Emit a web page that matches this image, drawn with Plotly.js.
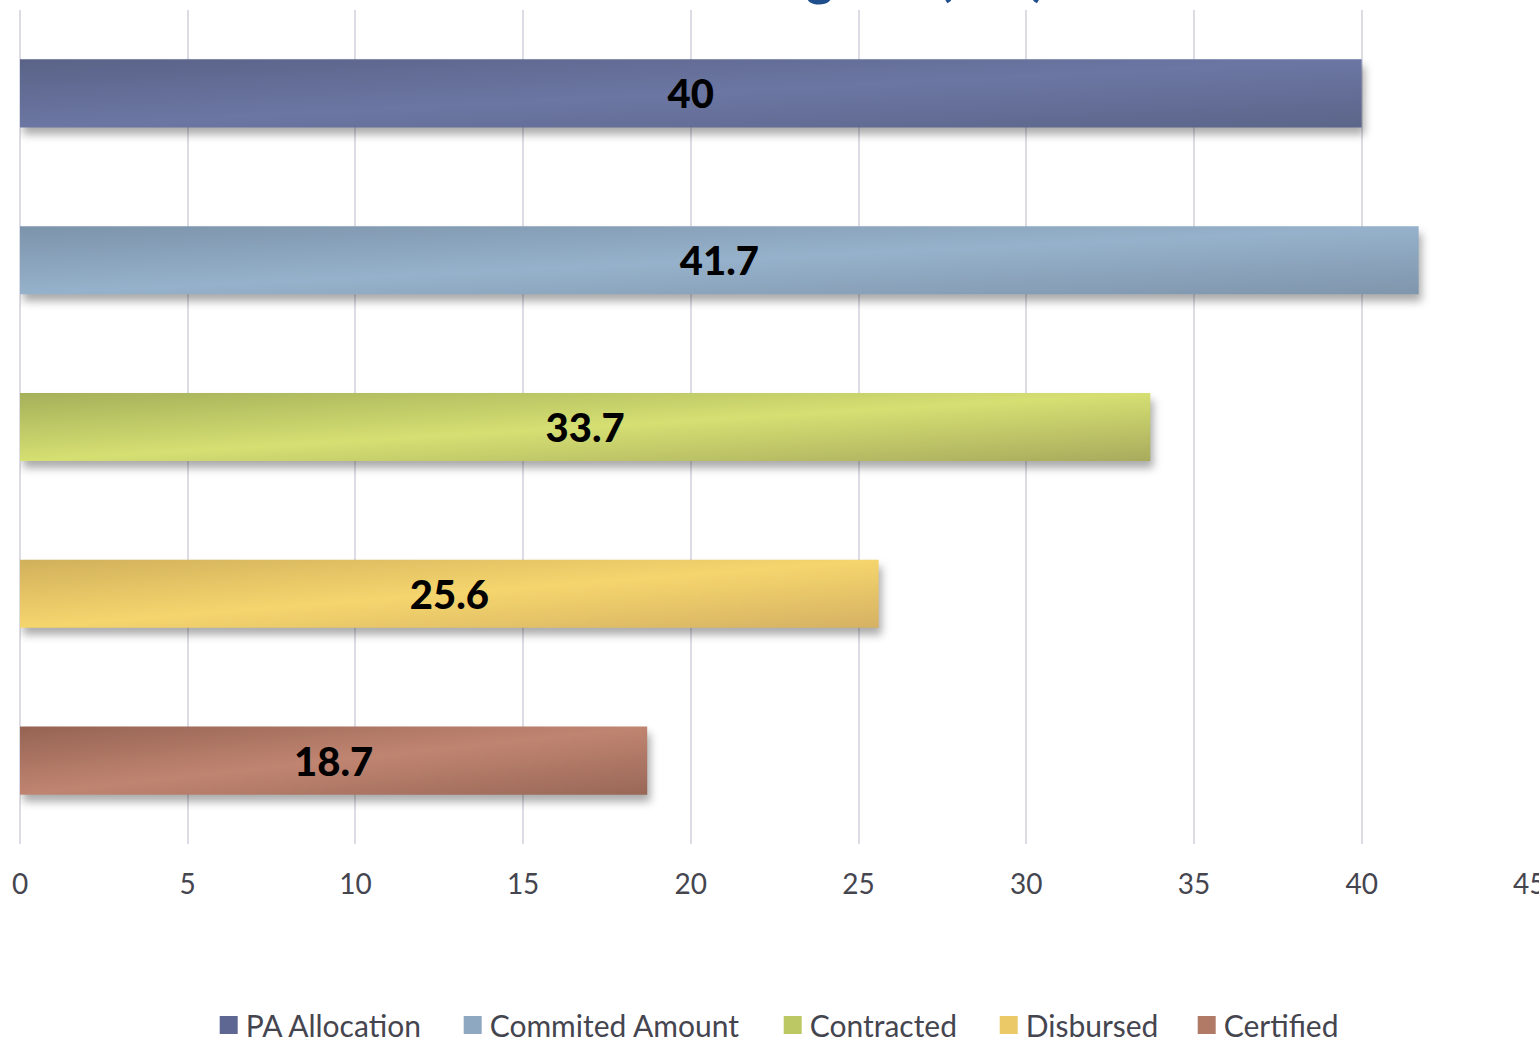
<!DOCTYPE html>
<html>
<head>
<meta charset="utf-8">
<script src="https://cdn.plot.ly/plotly-3.0.1.min.js"></script>
<style>
  html, body { margin: 0; padding: 0; background: #ffffff; }
  #chart { width: 1539px; height: 1040px; }
  .js-plotly-plot .barlayer .point path { filter: drop-shadow(3px 7px 4px rgba(0,0,0,0.33)); }
  .js-plotly-plot .legend .legendpoints path { transform: translate(23px, 0px) scale(1.5); }
</style>
</head>
<body>
<div id="chart"></div>
<script>
// ---- data ----
const seriesNames = ["PA Allocation", "Commited Amount", "Contracted", "Disbursed", "Certified"];
const seriesValues = [40, 41.7, 33.7, 25.6, 18.7];
const xTickValues = [0, 5, 10, 15, 20, 25, 30, 35, 40, 45];
const titleText = "Financial Progress (M€)";

// ---- styles ----
const baseColors = ["#5e6791", "#8ea8c1", "#bcc863", "#ebc966", "#b07a67"];
const gradStops = [
  ["#5a6387", "#6b76a3", "#5c6589"],
  ["#7c94ab", "#96b1cb", "#7f96ac"],
  ["#a5b05a", "#d5df72", "#a8ab5d"],
  ["#d1b05c", "#f5d56d", "#d5b163"],
  ["#956353", "#c08571", "#996757"]
];
const legendItemWidths = [199, 275, 171, 153, 120];

const traces = seriesNames.map((name, i) => ({
  type: "bar",
  orientation: "h",
  name: name,
  x: [seriesValues[i]],
  y: ["cat"],
  text: [String(seriesValues[i])],
  textposition: "inside",
  insidetextanchor: "middle",
  constraintext: "none",
  textfont: { family: "Lato, 'DejaVu Sans', sans-serif", size: 40, color: "#000000", weight: 900 },
  marker: { color: baseColors[i], line: { width: 0 } },
  legendwidth: legendItemWidths[i],
  hoverinfo: "skip"
}));

const layout = {
  width: 1539,
  height: 1040,
  paper_bgcolor: "#ffffff",
  plot_bgcolor: "#ffffff",
  margin: { l: 20, r: 9, t: 10, b: 196 },
  barmode: "group",
  bargap: 0,
  bargroupgap: 0.592,
  showlegend: true,
  legend: {
    orientation: "h",
    x: 0.505, xanchor: "center",
    xref: "container",
    y: 0.0144, yanchor: "middle",
    yref: "container",
    font: { family: "Lato, 'DejaVu Sans', sans-serif", size: 30, color: "#45454f" },
    traceorder: "normal",
    itemclick: false
  },
  xaxis: {
    range: [0, 45.02],
    tickvals: xTickValues,
    ticktext: xTickValues.map(String),
    showgrid: true,
    gridcolor: "#dcdce4",
    gridwidth: 2,
    zeroline: true,
    zerolinecolor: "#dcdce4",
    zerolinewidth: 2,
    showline: false,
    ticks: "outside",
    ticklen: 15,
    tickcolor: "rgba(0,0,0,0)",
    ticklabeloverflow: "allow",
    tickfont: { family: "Lato, 'DejaVu Sans', sans-serif", size: 28, color: "#45454f" },
    automargin: false,
    fixedrange: true
  },
  yaxis: {
    type: "category",
    range: [0.5, -0.5],
    showticklabels: false,
    showgrid: false,
    zeroline: false,
    showline: false,
    ticks: "",
    automargin: false,
    fixedrange: true
  },
  annotations: [{
    text: "<b>" + titleText + "</b>",
    xref: "paper", yref: "paper",
    x: 0.681, xanchor: "right",
    y: 1.0024, yanchor: "bottom",
    showarrow: false,
    font: { family: "Lato, 'DejaVu Sans', sans-serif", size: 52, color: "#1f4e8c" }
  }]
};

Plotly.newPlot("chart", traces, layout, { displayModeBar: false, staticPlot: true }).then(gd => {
  const ns = "http://www.w3.org/2000/svg";
  const svg = gd.querySelector("svg.main-svg");
  let defs = svg.querySelector("defs");
  if (!defs) { defs = document.createElementNS(ns, "defs"); svg.insertBefore(defs, svg.firstChild); }
  gd.querySelectorAll(".barlayer .trace").forEach((tr, i) => {
    const stops = gradStops[i];
    if (!stops) return;
    const g = document.createElementNS(ns, "linearGradient");
    g.setAttribute("id", "bargrad" + i);
    g.setAttribute("x1", "0"); g.setAttribute("y1", "0");
    g.setAttribute("x2", "1"); g.setAttribute("y2", "1");
    [[0, stops[0]], [0.5, stops[1]], [1, stops[2]]].forEach(([o, c]) => {
      const s = document.createElementNS(ns, "stop");
      s.setAttribute("offset", o);
      s.setAttribute("stop-color", c);
      g.appendChild(s);
    });
    defs.appendChild(g);
    tr.querySelectorAll(".point path").forEach(p => { p.style.fill = "url(#bargrad" + i + ")"; });
  });
});
</script>
</body>
</html>
